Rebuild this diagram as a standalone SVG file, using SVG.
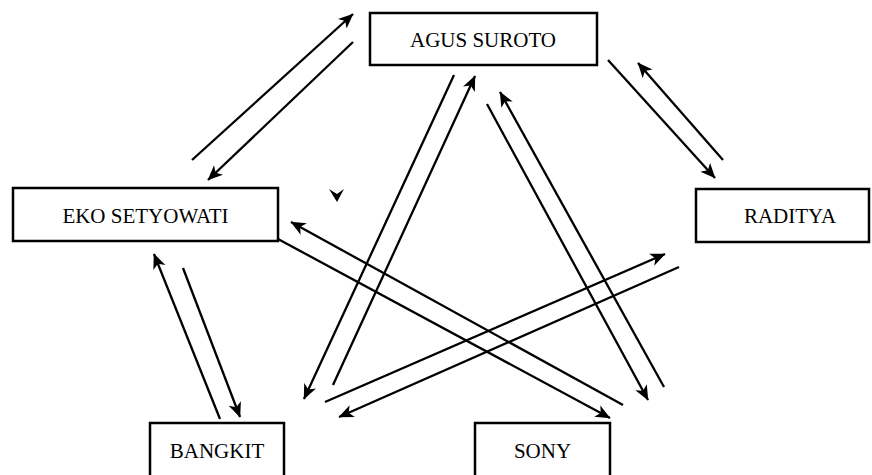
<svg xmlns="http://www.w3.org/2000/svg" width="872" height="475" viewBox="0 0 872 475">
<style>
.box{fill:#fff;stroke:#000;stroke-width:2.5}
.lbl{font-family:"Liberation Serif","Times New Roman",serif;font-size:21px;fill:#000;text-anchor:middle}
.c{stroke:#000;stroke-width:2.3;fill:none;marker-end:url(#ah)}
</style>
<defs>
<marker id="ah" markerUnits="userSpaceOnUse" markerWidth="16" markerHeight="14" refX="14.5" refY="6.5" orient="auto" viewBox="0 0 16 13">
<path d="M0,0 L15,6.5 L0,13 L4,6.5 Z" fill="#000"/>
</marker>
</defs>
<rect width="872" height="475" fill="#fff"/>
<g id="connectors">
<line class="c" x1="192" y1="160" x2="353" y2="14"/>
<line class="c" x1="353" y1="42" x2="208" y2="180"/>
<line class="c" x1="454" y1="75" x2="304" y2="399"/>
<line class="c" x1="333" y1="385" x2="475" y2="76"/>
<line class="c" x1="487" y1="104" x2="648" y2="400"/>
<line class="c" x1="664" y1="387" x2="500" y2="92"/>
<line class="c" x1="608" y1="60" x2="715" y2="178"/>
<line class="c" x1="723" y1="160" x2="638" y2="63"/>
<line class="c" x1="220" y1="419" x2="154" y2="254"/>
<line class="c" x1="183" y1="268" x2="240" y2="417"/>
<line class="c" x1="278" y1="239" x2="610" y2="418"/>
<line class="c" x1="623" y1="405" x2="291" y2="222"/>
<line class="c" x1="325" y1="402" x2="665" y2="254"/>
<line class="c" x1="679" y1="267" x2="339" y2="417"/>
<path d="M329,189 L337,202 L344,189 L337,194 Z" fill="#000"/>
</g>
<g id="agus">
<rect class="box" x="370" y="13" width="227" height="52"/>
<text class="lbl" x="483" y="47">AGUS SUROTO</text>
</g>
<g id="eko">
<rect class="box" x="13" y="188" width="265" height="53"/>
<text class="lbl" x="145.5" y="223">EKO SETYOWATI</text>
</g>
<g id="raditya">
<rect class="box" x="696" y="189" width="173" height="53"/>
<text class="lbl" x="790" y="223">RADITYA</text>
</g>
<g id="bangkit">
<rect class="box" x="150" y="423" width="134" height="60"/>
<text class="lbl" x="217" y="458">BANGKIT</text>
</g>
<g id="sony">
<rect class="box" x="475" y="423" width="135" height="60"/>
<text class="lbl" x="542.5" y="458">SONY</text>
</g>
</svg>
